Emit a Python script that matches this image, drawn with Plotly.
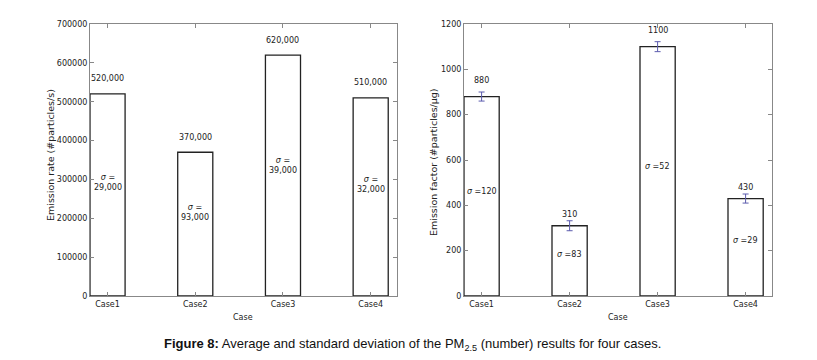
import plotly.graph_objects as go

cases = ["Case1", "Case2", "Case3", "Case4"]
rate_mean = [520000, 370000, 620000, 510000]
rate_labels = ["520,000", "370,000", "620,000", "510,000"]
rate_sigma = ["29,000", "93,000", "39,000", "32,000"]
rate_sigma_pos = [291000, 214000, 337000, 286000]

factor_mean = [880, 310, 1100, 430]
factor_err = [20, 22, 22, 20]
factor_labels = ["880", "310", "1100", "430"]
factor_sigma = ["120", "83", "52", "29"]
factor_sigma_pos = [463, 181, 573, 243]

xpos = list(range(len(cases)))
FONT = "DejaVu Sans"
OFF = 8  # default page body margin
W, H = 817 - 2 * OFF, 360 - 2 * OFF

def px_x(p):
    return (p - OFF) / W

def px_y(p):
    return 1 - (p - OFF) / H

fig = go.Figure()
bar_style = dict(marker=dict(color="white", line=dict(color="#222", width=1.3)),
                 width=0.4, showlegend=False)
fig.add_trace(go.Bar(x=xpos, y=rate_mean, xaxis="x", yaxis="y", **bar_style))
fig.add_trace(go.Bar(x=xpos, y=factor_mean, xaxis="x2", yaxis="y2",
                     error_y=dict(type="data", array=factor_err, color="#5c5cae",
                                  thickness=1, width=3), **bar_style))

axis_common = dict(showline=True, linecolor="#888", linewidth=1, mirror="allticks",
                   ticks="inside", ticklen=4, tickcolor="#888", showgrid=False,
                   zeroline=False, automargin=False,
                   tickfont=dict(family=FONT, size=8, color="#222"))

fig.update_layout(
    width=W, height=H, margin=dict(l=0, r=0, t=0, b=0, pad=0),
    plot_bgcolor="white", paper_bgcolor="white",
    xaxis=dict(domain=[px_x(90), px_x(397)], range=[-0.2, 3.3], tickvals=xpos,
               ticktext=cases, anchor="y", **axis_common),
    yaxis=dict(domain=[px_y(296), px_y(24)], range=[0, 700000], dtick=100000,
               tickformat="d", anchor="x", **axis_common),
    xaxis2=dict(domain=[px_x(464), px_x(772)], range=[-0.2, 3.3], tickvals=xpos,
                ticktext=cases, anchor="y2", **axis_common),
    yaxis2=dict(domain=[px_y(296), px_y(24)], range=[0, 1200], dtick=200,
                anchor="x2", **axis_common),
)

tf = dict(family=FONT, size=8, color="#222")
vf = dict(family=FONT, size=9.5, color="#222")
ann = dict(showarrow=False, xanchor="center", yanchor="middle")

# axis titles
fig.add_annotation(x=px_x(243), y=px_y(317), xref="paper", yref="paper", text="Case",
                   font=tf, **ann)
fig.add_annotation(x=px_x(618), y=px_y(317), xref="paper", yref="paper", text="Case",
                   font=tf, **ann)
fig.add_annotation(x=px_x(50), y=px_y(155), xref="paper", yref="paper",
                   text="Emission rate (#particles/s)", textangle=-90, font=vf, **ann)
fig.add_annotation(x=px_x(433), y=px_y(162), xref="paper", yref="paper",
                   text="Emission factor (#particles/μg)", textangle=-90, font=vf, **ann)

for i in xpos:
    fig.add_annotation(x=i, y=rate_mean[i], xref="x", yref="y", text=rate_labels[i],
                       yshift=15, font=tf, **ann)
    fig.add_annotation(x=i, y=rate_sigma_pos[i], xref="x", yref="y",
                       text="<i>σ</i> =<br>" + rate_sigma[i], font=tf, **ann)
    fig.add_annotation(x=i, y=factor_mean[i], xref="x2", yref="y2", text=factor_labels[i],
                       yshift=(16 if factor_mean[i] > 500 else 11), font=tf, **ann)
    fig.add_annotation(x=i, y=factor_sigma_pos[i], xref="x2", yref="y2",
                       text="<i>σ</i> =" + factor_sigma[i], font=tf, **ann)

fig.add_annotation(x=px_x(412), y=px_y(344), xref="paper", yref="paper",
                   text="<b>Figure 8:</b> Average and standard deviation of the PM<sub>2.5</sub> (number) results for four cases.",
                   font=dict(family="Liberation Sans", size=13, color="#111"), **ann)

fig.write_html("out.html")
